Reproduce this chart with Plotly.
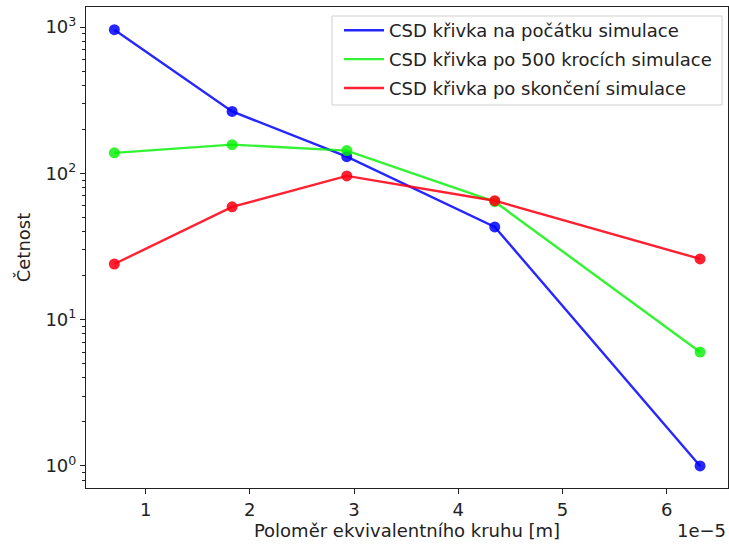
import plotly.graph_objects as go

# Data (x in metres, counts on log scale)
radius = [0.70e-5, 1.83e-5, 2.93e-5, 4.35e-5, 6.32e-5]
start_counts = [960, 265, 130, 43, 1]
after500_counts = [138, 157, 143, 64, 6]
end_counts = [24, 59, 96, 65, 26]

series_names = [
    "CSD křivka na počátku simulace",
    "CSD křivka po 500 krocích simulace",
    "CSD křivka po skončení simulace",
]
series_values = [start_counts, after500_counts, end_counts]
series_colors = ["rgba(0,0,255,0.85)", "rgba(0,240,0,0.8)", "rgba(255,0,20,0.87)"]

x_tick_vals = [1e-5, 2e-5, 3e-5, 4e-5, 5e-5, 6e-5]
x_tick_text = ["1", "2", "3", "4", "5", "6"]
y_tick_vals = [1, 10, 100, 1000]
y_tick_text = ["10<sup>0</sup>", "10<sup>1</sup>", "10<sup>2</sup>", "10<sup>3</sup>"]
y_minor_vals = [m * 10 ** e for e in range(-1, 4) for m in range(2, 10)]

FONT = "DejaVu Sans"
FS = 18
W, H = 729, 545
ML, MR, MT, MB = 86, 1, 7, 57
PW, PH = W - ML - MR, H - MT - MB


def px_x(p):
    return (p - ML) / PW


def px_y(p):
    return 1 - (p - MT) / PH


fig = go.Figure()
for name, vals, col in zip(series_names, series_values, series_colors):
    fig.add_trace(go.Scatter(x=radius, y=vals, mode="lines", name=name,
                             line=dict(color=col, width=2.4), legendgroup=name))
    fig.add_trace(go.Scatter(x=radius, y=vals, mode="markers", showlegend=False,
                             marker=dict(color=col, size=11, line=dict(width=0)),
                             legendgroup=name))

# legend frame (like matplotlib's)
fig.add_shape(type="rect", xref="paper", yref="paper", layer="above",
              x0=px_x(332), x1=px_x(722), y0=px_y(105), y1=px_y(16),
              line=dict(color="#d0d0d0", width=1), fillcolor="rgba(255,255,255,0.8)")

fig.update_layout(
    width=W, height=H,
    margin=dict(l=ML, r=MR, t=MT, b=MB),
    paper_bgcolor="white", plot_bgcolor="white",
    font=dict(family=FONT, size=FS, color="#222"),
    showlegend=True,
    legend=dict(x=px_x(339), y=px_y(12), xanchor="left", yanchor="top",
                borderwidth=0, bgcolor="rgba(0,0,0,0)",
                font=dict(family=FONT, size=FS, color="#222"),
                tracegroupgap=2.5, itemwidth=40),
    xaxis=dict(range=[0.428e-5, 6.588e-5], tickmode="array", tickvals=x_tick_vals,
               ticktext=x_tick_text, ticks="outside", ticklen=5, tickwidth=1.2,
               tickcolor="#222", showgrid=False, zeroline=False,
               showline=True, linecolor="#222", linewidth=1.2, mirror=True,
               tickfont=dict(family=FONT, size=FS),
               title=dict(text="Poloměr ekvivalentního kruhu [m]", standoff=4,
                          font=dict(family=FONT, size=FS))),
    yaxis=dict(type="log", range=[-0.151, 3.137], tickmode="array",
               tickvals=y_tick_vals, ticktext=y_tick_text,
               ticks="outside", ticklen=5, tickwidth=1.2, tickcolor="#222",
               tickfont=dict(family=FONT, size=FS),
               minor=dict(tickmode="array", tickvals=y_minor_vals, ticks="outside",
                          ticklen=3, tickwidth=1, tickcolor="#222", showgrid=False),
               showgrid=False, zeroline=False,
               showline=True, linecolor="#222", linewidth=1.2, mirror=True,
               title=dict(text="Četnost", standoff=10, font=dict(family=FONT, size=FS))),
)
fig.add_annotation(text="1e\u22125", xref="paper", yref="paper", x=1.0, y=-0.088,
                   xanchor="right", yanchor="middle", showarrow=False,
                   font=dict(family=FONT, size=FS, color="#222"))

fig.write_html("out.html")
